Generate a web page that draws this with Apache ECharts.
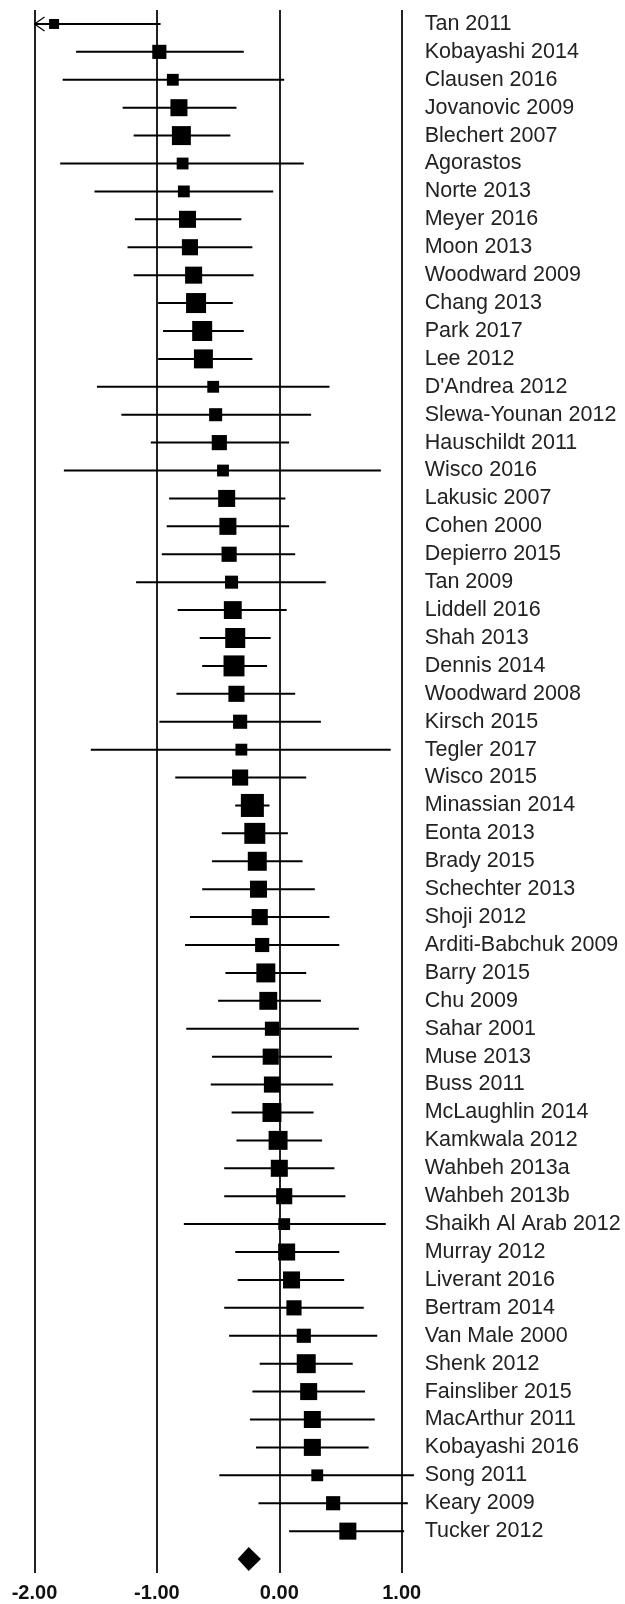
<!DOCTYPE html>
<html>
<head>
<meta charset="utf-8">
<script src="https://cdn.jsdelivr.net/npm/echarts@6/dist/echarts.min.js"></script>
<style>
  html, body { margin: 0; padding: 0; background: #fff; }
  #chart { width: 625px; height: 1604px; }
</style>
</head>
<body>
<div id="chart"></div>
<script>
// study names, top to bottom
const studies = [
  'Tan 2011', 'Kobayashi 2014', 'Clausen 2016', 'Jovanovic 2009', 'Blechert 2007',
  'Agorastos', 'Norte 2013', 'Meyer 2016', 'Moon 2013', 'Woodward 2009',
  'Chang 2013', 'Park 2017', 'Lee 2012', "D'Andrea 2012", 'Slewa-Younan 2012',
  'Hauschildt 2011', 'Wisco 2016', 'Lakusic 2007', 'Cohen 2000', 'Depierro 2015',
  'Tan 2009', 'Liddell 2016', 'Shah 2013', 'Dennis 2014', 'Woodward 2008',
  'Kirsch 2015', 'Tegler 2017', 'Wisco 2015', 'Minassian 2014', 'Eonta 2013',
  'Brady 2015', 'Schechter 2013', 'Shoji 2012', 'Arditi-Babchuk 2009', 'Barry 2015',
  'Chu 2009', 'Sahar 2001', 'Muse 2013', 'Buss 2011', 'McLaughlin 2014',
  'Kamkwala 2012', 'Wahbeh 2013a', 'Wahbeh 2013b', 'Shaikh Al Arab 2012', 'Murray 2012',
  'Liverant 2016', 'Bertram 2014', 'Van Male 2000', 'Shenk 2012', 'Fainsliber 2015',
  'MacArthur 2011', 'Kobayashi 2016', 'Song 2011', 'Keary 2009', 'Tucker 2012'
];
// effect sizes and 95% CI
const estimates = [
  -1.84, -0.98, -0.87, -0.82, -0.80, -0.79, -0.78, -0.75, -0.73, -0.70,
  -0.68, -0.63, -0.62, -0.54, -0.52, -0.49, -0.46, -0.43, -0.42, -0.41,
  -0.39, -0.38, -0.36, -0.37, -0.35, -0.32, -0.31, -0.32, -0.22, -0.20,
  -0.18, -0.17, -0.16, -0.14, -0.11, -0.09, -0.06, -0.07, -0.06, -0.06,
  -0.01, 0.00, 0.04, 0.04, 0.06, 0.10, 0.12, 0.20, 0.22, 0.24,
  0.27, 0.27, 0.31, 0.44, 0.56
];
const lower = [
  -2.30, -1.66, -1.77, -1.28, -1.19, -1.79, -1.51, -1.18, -1.24, -1.19,
  -0.99, -0.95, -0.99, -1.49, -1.29, -1.05, -1.76, -0.90, -0.92, -0.96,
  -1.17, -0.83, -0.65, -0.63, -0.84, -0.98, -1.54, -0.85, -0.36, -0.47,
  -0.55, -0.63, -0.73, -0.77, -0.44, -0.50, -0.76, -0.55, -0.56, -0.39,
  -0.35, -0.45, -0.45, -0.78, -0.36, -0.34, -0.45, -0.41, -0.16, -0.22,
  -0.24, -0.19, -0.49, -0.17, 0.08
];
const upper = [
  -0.97, -0.29, 0.04, -0.35, -0.40, 0.20, -0.05, -0.31, -0.22, -0.21,
  -0.38, -0.29, -0.22, 0.41, 0.26, 0.08, 0.83, 0.05, 0.08, 0.13,
  0.38, 0.06, -0.07, -0.10, 0.13, 0.34, 0.91, 0.22, -0.08, 0.07,
  0.19, 0.29, 0.41, 0.49, 0.22, 0.34, 0.65, 0.43, 0.44, 0.28,
  0.35, 0.45, 0.54, 0.87, 0.49, 0.53, 0.69, 0.80, 0.60, 0.70,
  0.78, 0.73, 1.10, 1.05, 1.02
];
// relative study weights (square area)
const weights = [
  1.0, 2.0, 1.4, 2.9, 3.6, 1.4, 1.4, 2.9, 2.6, 2.9,
  4.0, 4.0, 3.6, 1.4, 1.7, 2.3, 1.4, 2.9, 2.9, 2.3,
  1.7, 3.2, 4.0, 4.4, 2.6, 2.0, 1.4, 2.6, 5.3, 4.4,
  3.6, 2.9, 2.6, 2.0, 3.6, 3.2, 2.0, 2.6, 2.6, 3.6,
  3.6, 2.9, 2.6, 1.4, 2.9, 2.9, 2.3, 2.0, 3.6, 2.9,
  2.9, 2.9, 1.4, 2.0, 2.9
];
// pooled estimate [est, lower, upper]
const pooled = [-0.25, -0.34, -0.15];
const xTicks = [-2, -1, 0, 1];

const rows = studies.concat(['']);
const X_MIN = xTicks[0], X_MAX = xTicks[xTicks.length - 1];

const studyData = studies.map((s, i) => [estimates[i], lower[i], upper[i], weights[i], i]);

const chart = echarts.init(document.getElementById('chart'));

chart.setOption({
  animation: false,
  backgroundColor: '#fff',
  grid: { left: 34.5, right: 223.3, top: 10, bottom: 31 },
  xAxis: {
    type: 'value',
    min: X_MIN,
    max: X_MAX,
    interval: 1,
    axisLine: { show: false },
    axisTick: { show: false },
    splitLine: { show: true, lineStyle: { color: '#222', width: 2 } },
    axisLabel: {
      margin: 10,
      color: '#111',
      fontFamily: 'Liberation Sans',
      fontWeight: 'bold',
      fontSize: 20,
      formatter: v => v.toFixed(2)
    }
  },
  yAxis: {
    type: 'category',
    data: rows,
    inverse: true,
    position: 'right',
    axisLine: { show: false },
    axisTick: { show: false },
    splitLine: { show: false },
    axisLabel: {
      interval: 0,
      hideOverlap: false,
      margin: 23,
      color: '#222',
      fontFamily: 'Liberation Sans',
      fontSize: 21.5
    }
  },
  series: [
    {
      type: 'custom',
      clip: false,
      data: studyData,
      renderItem: function (params, api) {
        const est = api.value(0), lo = api.value(1), hi = api.value(2);
        const w = api.value(3), row = api.value(4);
        const c = api.coord([est, row]);
        const left = api.coord([Math.max(lo, X_MIN), row]);
        const right = api.coord([hi, row]);
        const s = 10 * Math.sqrt(w);
        const kids = [
          {
            type: 'line',
            shape: { x1: left[0], y1: c[1], x2: right[0], y2: c[1] },
            style: { stroke: '#000', lineWidth: 2 }
          },
          {
            type: 'rect',
            shape: { x: c[0] - s / 2, y: c[1] - s / 2, width: s, height: s },
            style: { fill: '#000' }
          }
        ];
        // CI runs past the axis: arrow head
        if (lo < X_MIN) {
          kids.push({
            type: 'polyline',
            shape: { points: [[left[0] + 10, c[1] - 7], [left[0], c[1]], [left[0] + 10, c[1] + 7]] },
            style: { stroke: '#000', lineWidth: 1.2, fill: null }
          });
        }
        return { type: 'group', children: kids };
      }
    },
    {
      type: 'custom',
      clip: false,
      data: [[pooled[0], pooled[1], pooled[2], rows.length - 1]],
      renderItem: function (params, api) {
        const c = api.coord([api.value(0), api.value(3)]);
        const l = api.coord([api.value(1), api.value(3)]);
        const r = api.coord([api.value(2), api.value(3)]);
        const h = 12;
        return {
          type: 'polygon',
          shape: { points: [[l[0], c[1]], [c[0], c[1] - h], [r[0], c[1]], [c[0], c[1] + h]] },
          style: { fill: '#000' }
        };
      }
    }
  ]
});
</script>
</body>
</html>
